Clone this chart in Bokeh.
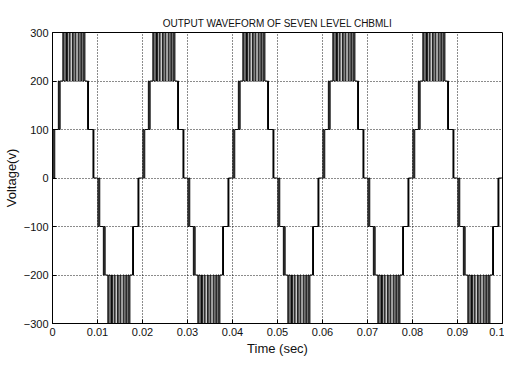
from bokeh.plotting import figure
from bokeh.models import Range1d, FixedTicker
from bokeh.embed import file_html
from bokeh.resources import INLINE

# ---- data ----
period = 0.02          # 50 Hz fundamental
n_cycles = 5
# one positive half cycle: switching instants (s, from cycle start) and the level reached (V)
half_times = [0.0, 0.0001, 0.0003, 0.0005, 0.0013, 0.0015, 0.0017,
              0.0023, 0.0025, 0.0028, 0.0031, 0.0033, 0.0037, 0.0039, 0.0044,
              0.0046, 0.0050, 0.0052, 0.0057, 0.0059, 0.0063, 0.0065, 0.0068,
              0.0070, 0.0072,
              0.0078, 0.0079, 0.0080, 0.0090, 0.0091, 0.0092]
half_levels = [0, 100, 0, 100, 200, 100, 200,
               300, 200, 300, 200, 300, 200, 300, 200,
               300, 200, 300, 200, 300, 200, 300, 200,
               300, 200,
               100, 200, 100, 0, 100, 0]

x_ticks = [0, 0.01, 0.02, 0.03, 0.04, 0.05, 0.06, 0.07, 0.08, 0.09, 0.1]
x_tick_labels = ["0", "0.01", "0.02", "0.03", "0.04", "0.05", "0.06", "0.07", "0.08", "0.09", "0.1"]
y_ticks = [-300, -200, -100, 0, 100, 200, 300]

title = "OUTPUT WAVEFORM OF SEVEN LEVEL CHBMLI"
x_label = "Time (sec)"
y_label = "Voltage(v)"

# ---- build the waveform (positive half, then mirrored negative half) ----
t, v = [], []
for c in range(n_cycles):
    for sign, off in ((1, 0.0), (-1, period / 2)):
        for ht, hl in zip(half_times, half_levels):
            t.append(c * period + off + ht)
            v.append(sign * hl)
t.append(x_ticks[-1])
v.append(0)

FONT = "Liberation Sans"

p = figure(width=504, height=360, x_range=Range1d(0, 0.1), y_range=Range1d(-300, 300),
           output_backend="svg", toolbar_location=None, title=title,
           min_border_left=46, min_border_right=2, min_border_top=32, min_border_bottom=37)

p.step(t, v, mode="after", line_color="black", line_width=1)

p.title.text_font = FONT
p.title.text_font_size = "10px"
p.title.text_font_style = "normal"
p.title.text_color = "#111111"
p.title.align = "center"
p.title.standoff = 8

xt = FixedTicker(ticks=x_ticks)
yt = FixedTicker(ticks=y_ticks)

p.xaxis.ticker = xt
p.yaxis.ticker = yt
p.xaxis.major_label_overrides = {k: s for k, s in zip(x_ticks, x_tick_labels)}

for ax in (p.xaxis, p.yaxis):
    ax.major_tick_in = 4
    ax.major_tick_out = 0
    ax.minor_tick_line_color = None
    ax.axis_line_color = "black"
    ax.major_tick_line_color = "black"
    ax.major_label_text_font = FONT
    ax.major_label_text_font_size = "11px"
    ax.major_label_text_color = "#111111"
    ax.axis_label_text_font = FONT
    ax.axis_label_text_font_style = "normal"
    ax.axis_label_text_color = "#111111"
    ax.axis_label_text_font_size = "13px"

p.xaxis.axis_label = x_label
p.yaxis.axis_label = y_label
p.xaxis.major_label_standoff = 4
p.yaxis.major_label_standoff = 4
p.xaxis.axis_label_standoff = 2
p.yaxis.axis_label_standoff = 2

for g, tk in ((p.xgrid, xt), (p.ygrid, yt)):
    g.ticker = tk
    g.grid_line_color = "black"
    g.grid_line_dash = "1 2"
    g.grid_line_alpha = 0.9

p.outline_line_color = "black"
p.outline_line_width = 1
p.background_fill_color = "white"
p.border_fill_color = "white"

open("out.html", "w").write(file_html(p, INLINE))
